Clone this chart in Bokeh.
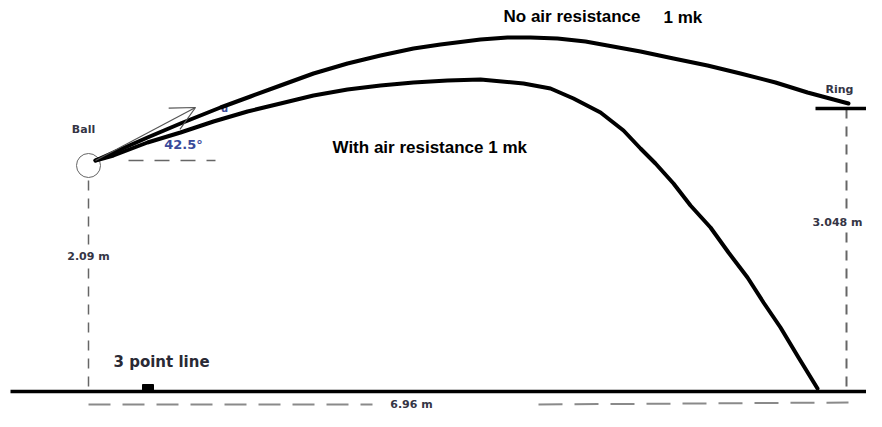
from bokeh.plotting import figure
from bokeh.models import Range1d, Arrow, OpenHead
from bokeh.core.properties import value
from bokeh.embed import file_html
from bokeh.resources import INLINE

# ---- Data (diagram units; y grows downward) ----
no_air_x = [95, 113, 147, 180, 220, 250, 280, 313, 347, 380, 413, 440, 480, 507, 530, 557,
            585, 607, 640, 673, 707, 740, 775, 807, 848]
no_air_y = [160, 152, 137, 123, 107, 96, 85, 73, 63, 55, 48, 44, 39, 37, 37, 38,
            41, 45, 51, 58, 65, 73, 82, 92, 103]

air_x = [95, 113, 147, 180, 213, 247, 280, 313, 347, 380, 413, 447, 480, 523, 550, 573,
         600, 623, 640, 655, 673, 690, 710, 728, 747, 763, 780, 798, 817]
air_y = [160, 155, 142, 132, 121, 111, 103, 95, 89, 85, 82, 80, 79, 83, 88, 98,
         112, 130, 148, 163, 183, 205, 227, 252, 277, 302, 327, 357, 388]

ball_x, ball_y = [88], [165]
launch = [95, 160]
velocity_tip = [195, 107]
ref_dash_x = [128, 215]
ground_x = [10, 866]
ground_y = 391
ring_bar_x = [815, 866]
ring_y = 108
ring_pole_x = 846
ball_pole_x = 88
three_pt_x = [142, 153]
three_pt_y = [384, 391]
span_y = 404
span_left_x = [88, 372]
span_right_x = [538, 848]

small_labels = ["Ball", "Ring", "3.048 m", "2.09 m", "6.96 m"]
small_x = [83, 839, 837, 88, 411]
small_y = [129, 89, 222, 256, span_y]

big_labels = ["No air resistance", "1 mk", "With air resistance 1 mk"]
big_x = [503, 663, 332]
big_y = [16, 17, 147]

p = figure(width=866, height=411, x_range=Range1d(0, 866), y_range=Range1d(411, 0),
           output_backend="svg", toolbar_location=None, min_border=0)
p.axis.visible = False
p.grid.visible = False
p.outline_line_color = None
p.background_fill_color = "white"

gray = "#666666"

# angle and velocity labels (drawn first so lines cover them)
p.text(x=[183], y=[144], text=["42.5°"], text_font=value("DejaVu Sans"),
       text_font_style="bold", text_font_size="13px", text_color="#3a4a9a",
       text_align="center", text_baseline="middle")
p.text(x=[224], y=[108], text=["u"], text_font=value("DejaVu Sans"),
       text_font_style="bold", text_font_size="10px", text_color="#3a4a9a",
       text_align="center", text_baseline="middle")

# ball
p.scatter(x=ball_x, y=ball_y, marker="circle", size=24, fill_color=None,
          line_color=gray, line_width=1)

# reference horizontal dashed line
p.line(x=ref_dash_x, y=[launch[1], launch[1]], line_color=gray, line_width=1.5,
       line_dash="15 11")

# velocity arrow
p.add_layout(Arrow(x_start=launch[0], y_start=launch[1], x_end=velocity_tip[0],
                   y_end=velocity_tip[1], line_color="#555555", line_width=1.2,
                   end=OpenHead(size=24, line_color="#555555", line_width=1.2)))

# vertical dashed heights
p.segment(x0=[ball_pole_x, ball_pole_x], y0=[180, 268], x1=[ball_pole_x, ball_pole_x],
          y1=[246, ground_y], line_color=gray, line_width=1.5, line_dash="10 8")
p.segment(x0=[ring_pole_x, ring_pole_x], y0=[ring_y, 232], x1=[ring_pole_x, ring_pole_x],
          y1=[212, ground_y], line_color=gray, line_width=2, line_dash="10 8")

# bottom span dashed
p.line(x=span_left_x, y=[span_y, span_y], line_color="#8a8a8a", line_width=2,
       line_dash="22 12")
p.line(x=span_right_x, y=[span_y, span_y - 2], line_color="#8a8a8a", line_width=2,
       line_dash="24 12")

# ground and 3-point marker
p.line(x=ground_x, y=[ground_y, ground_y], line_color="black", line_width=3.5)
p.quad(left=[three_pt_x[0]], right=[three_pt_x[1]], top=[three_pt_y[0]],
       bottom=[three_pt_y[1]], fill_color="black", line_color="black")

# ring
p.line(x=ring_bar_x, y=[ring_y, ring_y], line_color="black", line_width=3.5)

# trajectories
p.line(x=no_air_x, y=no_air_y, line_color="black", line_width=4, line_join="round",
       line_cap="round")
p.line(x=air_x, y=air_y, line_color="black", line_width=4, line_join="round",
       line_cap="round")

# labels
p.text(x=small_x, y=small_y, text=small_labels, text_font=value("DejaVu Sans"),
       text_font_style="bold", text_font_size="11px", text_color="#353545",
       text_align="center", text_baseline="middle")
p.text(x=[113], y=[361], text=["3 point line"], text_font=value("DejaVu Sans"),
       text_font_style="bold", text_font_size="15px", text_color="#2a2a35",
       text_align="left", text_baseline="middle")
p.text(x=big_x, y=big_y, text=big_labels, text_font=value("Liberation Sans"),
       text_font_style="bold", text_font_size="17px", text_color="black",
       text_align="left", text_baseline="middle")

open("out.html", "w").write(file_html(p, INLINE))
